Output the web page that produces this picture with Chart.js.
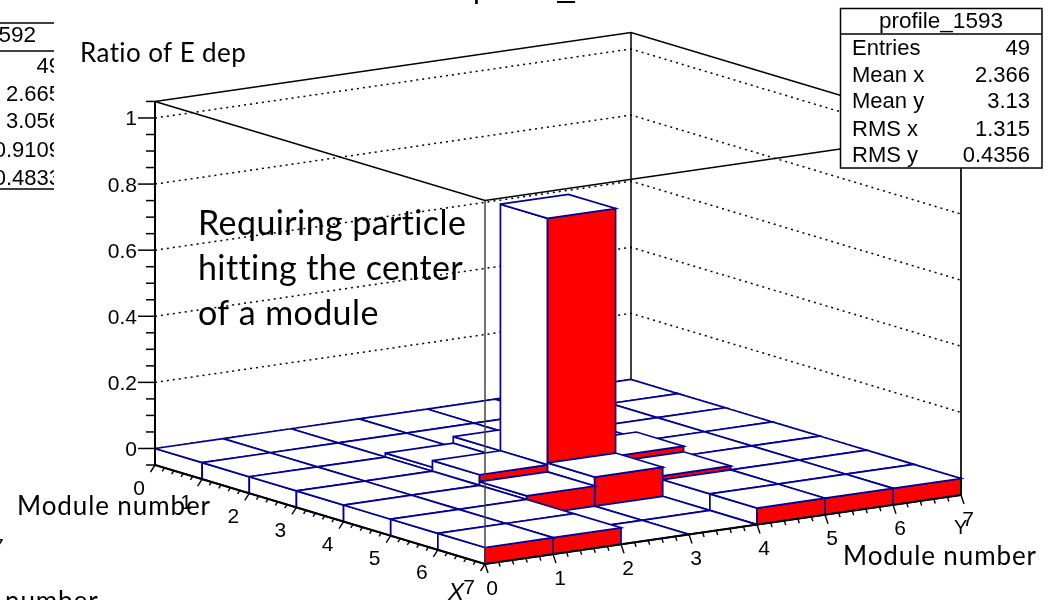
<!DOCTYPE html>
<html><head><meta charset="utf-8">
<style>html,body{margin:0;padding:0;background:#fff}#w{width:1057px;height:600px;position:relative;overflow:hidden}canvas{display:block}</style>
<script src="https://cdn.jsdelivr.net/npm/chart.js@4"></script></head>
<body><div id="w"><canvas id="c" width="1057" height="600"></canvas></div>
<script>
// Data: bin contents, rows = module x (0..6), columns = module y (0..6). null = empty bin.
const row0 = [0, 0, 0, 0, 0, 0, 0];
const row1 = [0, 0, 0, 0, 0, 0, 0];
const row2 = [0, 0, 0.012, 0.032, 0.011, 0, 0];
const row3 = [0, 0, 0.032, 0.778, 0.029, 0, 0];
const row4 = [0, 0, 0.011, 0.038, 0.012, 0, 0];
const row5 = [0, 0, null, null, 0, 0, 0];
const row6 = [0, 0, null, null, 0, 0, 0];
const binRows = [row0, row1, row2, row3, row4, row5, row6];
const xTicks = [0, 1, 2, 3, 4, 5, 6, 7];
const yTicks = [0, 1, 2, 3, 4, 5, 6, 7];
const zTicks = [0, 0.2, 0.4, 0.6, 0.8, 1];
const zTickLabels = ['0', '0.2', '0.4', '0.6', '0.8', '1'];
const statsRight = [['Entries', '49'], ['Mean x', '2.366'], ['Mean y', '3.13'], ['RMS x', '1.315'], ['RMS y', '0.4356']];
const statsLeft = ['49', '2.665', '3.056', '0.9109', '0.4833'];

const zMin = -0.05, zMax = 1.05;
// oblique view of the (x, y, z) box onto the chart's two scales
const P = (x, y, z) => ({
  x: 155 + x * 330 / 7 + y * 476 / 7,
  y: 465 + x * 99 / 7 - y * 69 / 7 - (z - zMin) * 330.5
});
const NAVY = '#000099', RED = '#ff0000';
const datasets = [];
function line(pts, color, width, dash) {
  datasets.push({ data: pts, showLine: true, fill: false, borderColor: color, borderWidth: width,
    borderDash: dash || [], pointRadius: 0, tension: 0, borderCapStyle: 'butt', clip: false });
}
function poly(pts, fillc) {
  datasets.push({ data: pts.concat([pts[0]]), showLine: true, fill: 'shape', backgroundColor: fillc,
    borderColor: NAVY, borderWidth: 1.7, pointRadius: 0, tension: 0, clip: false });
}
const level = (i, j) => {
  if (i > 6 || j < 0) return zMin;
  const v = binRows[i][j];
  return v === null ? zMin : v;
};
// back walls
for (const z of zTicks) line([P(0,0,z), P(0,7,z), P(7,7,z)], '#000', 1.5, [2, 4]);
line([P(0,0,zMax), P(0,7,zMax), P(7,7,zMax)], '#000', 1.5);
line([P(0,7,zMin), P(0,7,zMax)], '#000', 1.5);
// lego bins, back to front; a side is only drawn where the neighbour is lower
for (let i = 0; i < 7; i++) for (let j = 6; j >= 0; j--) {
  const z = level(i, j), zl = level(i, j - 1), zf = level(i + 1, j);
  if (z > zl) poly([P(i,j,zl), P(i+1,j,zl), P(i+1,j,z), P(i,j,z)], '#fff');
  if (z > zf) poly([P(i+1,j,zf), P(i+1,j+1,zf), P(i+1,j+1,z), P(i+1,j,z)], RED);
  poly([P(i,j,z), P(i+1,j,z), P(i+1,j+1,z), P(i,j+1,z)], '#fff');
}
// front frame
line([P(7,0,zMin), P(7,0,zMax)], '#444', 1.5);
line([P(7,7,zMin), P(7,7,zMax)], '#000', 1.7);
line([P(0,0,zMax), P(7,0,zMax), P(7,7,zMax)], '#000', 1.5);
// axes
line([P(0,0,zMin), P(0,0,zMax)], '#000', 2);
line([P(0,0,zMin), P(7,0,zMin)], '#000', 2);
line([P(7,0,zMin), P(7,7,zMin)], '#000', 2);
for (const t of xTicks) for (let k = 0; k < (t < 7 ? 5 : 1); k++) {
  const p = P(t + k / 5, 0, zMin), m = k === 0 ? 1 : 0.5;
  line([p, { x: p.x - 4.5 * m, y: p.y + 7 * m }], '#000', 1.4);
}
for (const t of yTicks) for (let k = 0; k < (t < 7 ? 5 : 1); k++) {
  const p = P(7, t + k / 5, zMin), m = k === 0 ? 1 : 0.5;
  line([p, { x: p.x + 3 * m, y: p.y + 9 * m }], '#000', 1.4);
}
for (let n = -1; n <= 21; n++) {
  const z = n * 0.05, major = n % 4 === 0;
  const p = P(0, 0, z);
  line([p, { x: p.x - (major ? 17 : 9), y: p.y }], '#000', 1.5);
}
// Chart.js paints the first dataset last
datasets.reverse();

const HELV = '"Liberation Sans"', CAL = 'Lato';
const textPlugin = { id: 'labels', afterDatasetsDraw(ch) {
  const c = ch.ctx, X = ch.scales.x, Y = ch.scales.y;
  const T = (s, x, y, font, align, sp) => { c.font = font; c.textAlign = align || 'left'; c.textBaseline = 'alphabetic';
    c.letterSpacing = sp || '0px';
    c.fillStyle = '#000'; c.fillText(s, X.getPixelForValue(x), Y.getPixelForValue(y)); c.letterSpacing = '0px'; };
  c.save();
  // ticks
  const tf = '21px ' + HELV;
  xTicks.forEach(t => { const p = P(t, 0, zMin); T(String(t), p.x - 16, p.y + 29.5, tf, 'center'); });
  yTicks.forEach(t => { const p = P(7, t, zMin); T(String(t), p.x + 7, p.y + 30.5, tf, 'center'); });
  zTicks.forEach((t, i) => { const p = P(0, 0, t); T(zTickLabels[i], p.x - 18, p.y + 7.5, tf, 'right'); });
  T('X', 448, 600, 'italic 24px ' + HELV);
  T('Y', 954, 534, '20px ' + HELV);
  // pasted titles
  const af = '26px ' + CAL;
  T('Ratio of E dep', 80, 62, af, 'left', '0.4px');
  T('Module number', 17, 515, af, 'left', '0.9px');
  T('Module number', 843, 565, af, 'left', '0.9px');
  const bf = '34px ' + CAL;
  T('Requiring particle', 198, 235, bf, 'left', '0.4px');
  T('hitting the center', 198, 280, bf, 'left', '0.4px');
  T('of a module', 198, 325, bf, 'left', '0.4px');
  // main title, cut by the top edge
  T('profile_1593', 473, -3, '31px ' + HELV);
  // right stats box
  c.fillStyle = '#fff'; c.fillRect(840, 8, 202, 160);
  c.strokeStyle = '#000'; c.lineWidth = 1.5; c.strokeRect(840.5, 8.5, 201.5, 159.5);
  c.beginPath(); c.moveTo(840, 34); c.lineTo(1042, 34); c.stroke();
  T('profile_1593', 941, 28, '22.5px ' + HELV, 'center');
  const ys = [55, 82, 108, 136, 162];
  statsRight.forEach((r, i) => { T(r[0], 852, ys[i], '22px ' + HELV); T(r[1], 1030, ys[i], '22px ' + HELV, 'right'); });
  // left stats box, cut off by the slide
  c.save(); c.beginPath(); c.rect(0, 0, 54, 600); c.clip();
  c.beginPath();
  for (const yy of [23, 51, 189]) { c.moveTo(0, yy); c.lineTo(54, yy); }
  c.stroke();
  T('profile_1592', 36, 42, '22.5px ' + HELV, 'right');
  const yl = [73, 101, 128, 157, 185];
  statsLeft.forEach((s, i) => T(s, 61, yl[i], '22px ' + HELV, 'right'));
  c.restore();
  // fragments of the neighbouring pad
  T('7', -8, 553, tf);
  T('number', 5, 610, af, 'left', '0.9px');
  c.restore();
} };

new Chart(document.getElementById('c'), {
  type: 'scatter',
  data: { datasets },
  options: {
    responsive: false, animation: false, events: [],
    layout: { padding: 0 },
    plugins: { legend: { display: false }, tooltip: { enabled: false }, title: { display: false } },
    scales: {
      x: { type: 'linear', min: 0, max: 1057, display: false },
      y: { type: 'linear', min: 0, max: 600, reverse: true, display: false }
    }
  },
  plugins: [textPlugin]
});
</script></body></html>
